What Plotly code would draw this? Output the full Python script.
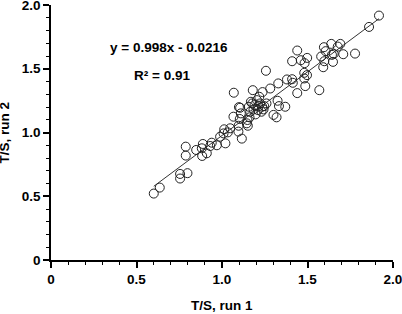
import plotly.graph_objects as go

run1 = [1.918, 1.860, 1.692, 1.639, 1.596, 1.606, 1.653, 1.709, 1.778, 1.580,
        1.649, 1.592, 1.598, 1.440, 1.498, 1.461, 1.410, 1.483, 1.481, 1.497,
        1.481, 1.487, 1.440, 1.569, 1.410, 1.380, 1.414, 1.329, 1.257, 1.282,
        1.237, 1.180, 1.069, 1.325, 1.333, 1.370, 1.301, 1.319, 1.260, 1.235,
        1.218, 1.177, 1.157, 1.184, 1.210, 1.231, 1.196, 1.161, 1.149, 1.145,
        1.151, 1.106, 1.099, 1.067, 1.110, 1.104, 1.116, 1.096, 1.097, 1.048,
        1.013, 1.009, 1.034, 1.020, 0.970, 0.989, 0.940, 0.931, 0.888, 0.882,
        0.884, 0.911, 0.849, 0.788, 0.788, 0.798, 0.755, 0.755, 0.636, 0.601,
        1.169, 1.190, 1.214, 1.247, 1.223, 1.204, 1.165, 1.243, 1.677, 1.643]
run2 = [1.917, 1.828, 1.695, 1.695, 1.669, 1.638, 1.617, 1.614, 1.619, 1.596,
        1.554, 1.512, 1.559, 1.643, 1.585, 1.567, 1.559, 1.544, 1.468, 1.450,
        1.424, 1.364, 1.309, 1.332, 1.418, 1.416, 1.390, 1.385, 1.484, 1.345,
        1.317, 1.332, 1.312, 1.249, 1.207, 1.202, 1.138, 1.119, 1.228, 1.202,
        1.280, 1.228, 1.202, 1.181, 1.176, 1.163, 1.142, 1.119, 1.098, 1.072,
        1.053, 1.194, 1.199, 1.124, 1.150, 1.106, 0.952, 1.007, 1.053, 1.033,
        1.025, 0.993, 1.001, 0.915, 0.900, 0.967, 0.920, 0.894, 0.910, 0.876,
        0.816, 0.837, 0.863, 0.889, 0.819, 0.681, 0.675, 0.639, 0.568, 0.521,
        1.241, 1.215, 1.207, 1.207, 1.228, 1.254, 1.163, 1.181, 1.674, 1.609]

tick_vals = [0, 0.5, 1.0, 1.5, 2.0]
tick_text = ["0", "0.5", "1.0", "1.5", "2.0"]

slope = 0.998
intercept = -0.0216
r2 = 0.91

x_fit = [min(run1), max(run1)]
y_fit = [slope * v + intercept for v in x_fit]

FONT = "Liberation Sans"
FS = 13.5

fig = go.Figure()
fig.add_trace(go.Scatter(
    x=x_fit, y=y_fit, mode="lines",
    line=dict(color="#333333", width=1), hoverinfo="skip", showlegend=False))
fig.add_trace(go.Scatter(
    x=run1, y=run2, mode="markers",
    marker=dict(symbol="circle-open", size=9, color="#222222", line=dict(width=1)),
    showlegend=False, cliponaxis=False))

fig.add_annotation(x=0.332, y=1.666, xref="x", yref="y", xanchor="left", yanchor="middle",
                   text=f"<b>y = {slope}x - {abs(intercept)}</b>", showarrow=False,
                   font=dict(family=FONT, size=FS, color="black"))
fig.add_annotation(x=0.472, y=1.448, xref="x", yref="y", xanchor="left", yanchor="middle",
                   text=f"<b>R² = {r2}</b>", showarrow=False,
                   font=dict(family=FONT, size=FS, color="black"))
fig.add_annotation(x=0, y=0.5, xref="paper", yref="paper", xanchor="center", yanchor="middle",
                   xshift=-47, textangle=-90, text="<b>T/S, run 2</b>", showarrow=False,
                   font=dict(family=FONT, size=FS, color="black"))
fig.add_annotation(x=0.5, y=0, xref="paper", yref="paper", xanchor="center", yanchor="middle",
                   yshift=-45, text="<b>T/S, run 1</b>", showarrow=False,
                   font=dict(family=FONT, size=FS, color="black"))

axis_common = dict(
    range=[0, 2], showgrid=False, zeroline=False, showline=True, automargin=False,
    linecolor="black", linewidth=1.5, ticks="outside", ticklen=6, tickwidth=1.5,
    tickcolor="black", tickvals=tick_vals, ticklabeloverflow="allow",
    ticktext=[f"<b>{t}</b>" for t in tick_text],
    tickfont=dict(family=FONT, size=FS, color="black"),
    minor=dict(dtick=0.1, ticks="outside", ticklen=3, tickwidth=1, tickcolor="black"),
)

fig.update_layout(
    width=402, height=314,
    margin=dict(l=51, r=9, t=5, b=54),
    plot_bgcolor="white", paper_bgcolor="white",
    xaxis=dict(**axis_common),
    yaxis=dict(**axis_common),
)

fig.write_html("out.html", config={"displayModeBar": False},
               post_script="document.body.style.margin='0';document.body.style.overflow='hidden';")
